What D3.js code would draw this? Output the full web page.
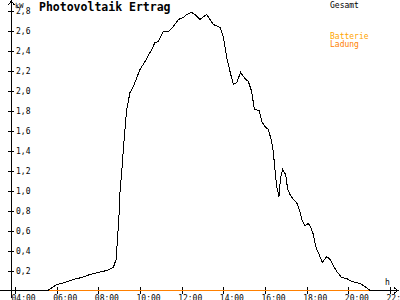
<!DOCTYPE html>
<html>
<head>
<meta charset="utf-8">
<script src="https://cdn.jsdelivr.net/npm/d3@7"></script>
<style>
  html, body { margin: 0; padding: 0; background: #fff; }
  svg { display: block; font-family: "DejaVu Sans Mono", monospace; }
</style>
</head>
<body>
<svg id="chart" width="400" height="300"></svg>
<script>
// Ertrag (Stunden, kW)
const hours = [5.58, 6.00, 6.40, 6.80, 7.20, 7.60, 8.00, 8.40, 8.72, 8.85, 8.91, 8.99, 9.04, 9.12, 9.20, 9.28,
  9.36, 9.52, 9.68, 10.00, 10.24, 10.56, 10.72, 10.88, 11.12, 11.36, 11.60, 11.84, 12.08, 12.24, 12.48, 12.64,
  12.88, 13.20, 13.52, 13.84, 14.00, 14.08, 14.16, 14.32, 14.48, 14.64, 14.83, 15.04, 15.20, 15.36, 15.49, 15.73,
  15.84, 16.00, 16.16, 16.32, 16.40, 16.48, 16.56, 16.67, 16.75, 16.85, 16.99, 17.09, 17.20, 17.36, 17.52, 17.68,
  17.76, 17.92, 18.08, 18.19, 18.32, 18.45, 18.56, 18.75, 18.96, 19.12, 19.44, 19.68, 19.92, 20.16, 20.56, 20.80, 21.04]
const gesamt = [0, 0.06, 0.08, 0.11, 0.13, 0.16, 0.18, 0.20, 0.23, 0.31, 0.48, 0.74, 0.98, 1.18, 1.41, 1.61,
  1.81, 1.98, 2.04, 2.21, 2.29, 2.41, 2.48, 2.49, 2.59, 2.59, 2.64, 2.71, 2.73, 2.76, 2.78, 2.76,
  2.71, 2.76, 2.66, 2.63, 2.54, 2.44, 2.33, 2.19, 2.06, 2.08, 2.18, 2.12, 2.09, 1.99, 1.81, 1.80,
  1.69, 1.64, 1.61, 1.49, 1.38, 1.21, 1.04, 0.94, 1.13, 1.21, 1.16, 1.01, 0.96, 0.91, 0.88, 0.79,
  0.71, 0.65, 0.67, 0.64, 0.56, 0.43, 0.38, 0.28, 0.34, 0.31, 0.19, 0.13, 0.12, 0.09, 0.07, 0.04, 0]

// Batterie Ladung
const batteryHours = [5.6, 21.0]
const batteryKw = [0, 0]

const xTicks = [4, 6, 8, 10, 12, 14, 16, 18, 20, 22]
const xTickLabels = ['04:00', '06:00', '08:00', '10:00', '12:00', '14:00', '16:00', '18:00', '20:00', '22:00']
const yTicks = [0.2, 0.4, 0.6, 0.8, 1.0, 1.2, 1.4, 1.6, 1.8, 2.0, 2.2, 2.4, 2.6, 2.8]
const yTickLabels = ['0,2', '0,4', '0,6', '0,8', '1,0', '1,2', '1,4', '1,6', '1,8', '2,0', '2,2', '2,4', '2,6', '2,8']

const svg = d3.select('#chart')
const orange = '#ff8000'
const orangeLight = '#ffa500'

const x = d3.scaleLinear().domain([4, 22]).range([15, 390])
const y = d3.scaleLinear().domain([0, 2.8]).range([290.5, 10.5])

svg.append('rect').attr('width', 400).attr('height', 300).attr('fill', '#fff')

// y axis
const yAxis = d3.axisRight(y)
  .tickValues(yTicks)
  .tickSize(6)
  .tickPadding(2)
  .tickFormat((d, i) => yTickLabels[i])

const gy = svg.append('g')
  .attr('transform', 'translate(8,0)')
  .call(yAxis)
gy.select('.domain').remove()
gy.selectAll('line').attr('shape-rendering', 'crispEdges')
gy.selectAll('text').attr('font-size', 8).attr('font-family', '"DejaVu Sans Mono", monospace').attr('fill', '#000')

// x axis
const xAxis = d3.axisBottom(x)
  .tickValues(xTicks)
  .tickSize(7)
  .tickPadding(1)
  .tickFormat((d, i) => xTickLabels[i])

const gx = svg.append('g')
  .attr('transform', 'translate(0,287)')
  .call(xAxis)
gx.select('.domain').remove()
gx.selectAll('line').attr('shape-rendering', 'crispEdges')
gx.selectAll('text')
  .attr('font-size', 8)
  .attr('font-family', '"DejaVu Sans Mono", monospace')
  .attr('fill', '#000')
  .attr('text-anchor', 'start')
  .attr('x', -4)

// axis lines + arrows
svg.append('path')
  .attr('d', 'M11.5,298 V1 M8.5,5 L11.5,1 L14.5,5')
  .attr('fill', 'none').attr('stroke', '#000').attr('shape-rendering', 'crispEdges')
svg.append('path')
  .attr('d', 'M0,290.5 H398 M394,287.5 L398,290.5 L394,293.5')
  .attr('fill', 'none').attr('stroke', '#000').attr('shape-rendering', 'crispEdges')

svg.append('text').attr('x', 15).attr('y', 8).attr('font-size', 7).text('kW')
svg.append('text').attr('x', 385).attr('y', 285).attr('font-size', 8).text('h')

// Batterie line
const battery = batteryHours.map((h, i) => [h, batteryKw[i]])
svg.append('path')
  .datum(battery)
  .attr('fill', 'none')
  .attr('stroke', orange)
  .attr('stroke-width', 1)
  .attr('shape-rendering', 'crispEdges')
  .attr('d', d3.line().x(d => x(d[0])).y(d => y(d[1])))

// Gesamt line
const data = hours.map((h, i) => [h, gesamt[i]])
svg.append('path')
  .datum(data)
  .attr('fill', 'none')
  .attr('stroke', '#000')
  .attr('stroke-width', 1)
  .attr('shape-rendering', 'crispEdges')
  .attr('d', d3.line().x(d => x(d[0])).y(d => y(d[1])))

// title + legend
svg.append('text')
  .attr('x', 39).attr('y', 11)
  .attr('font-size', 11.5).attr('font-weight', 'bold')
  .text('Photovoltaik Ertrag')

svg.append('text').attr('x', 330).attr('y', 8).attr('font-size', 8).attr('fill', '#000').text('Gesamt')
svg.append('text').attr('x', 330).attr('y', 39).attr('font-size', 8).attr('fill', orangeLight).text('Batterie')
svg.append('text').attr('x', 330).attr('y', 47).attr('font-size', 8).attr('fill', orange).text('Ladung')
</script>
</body>
</html>
